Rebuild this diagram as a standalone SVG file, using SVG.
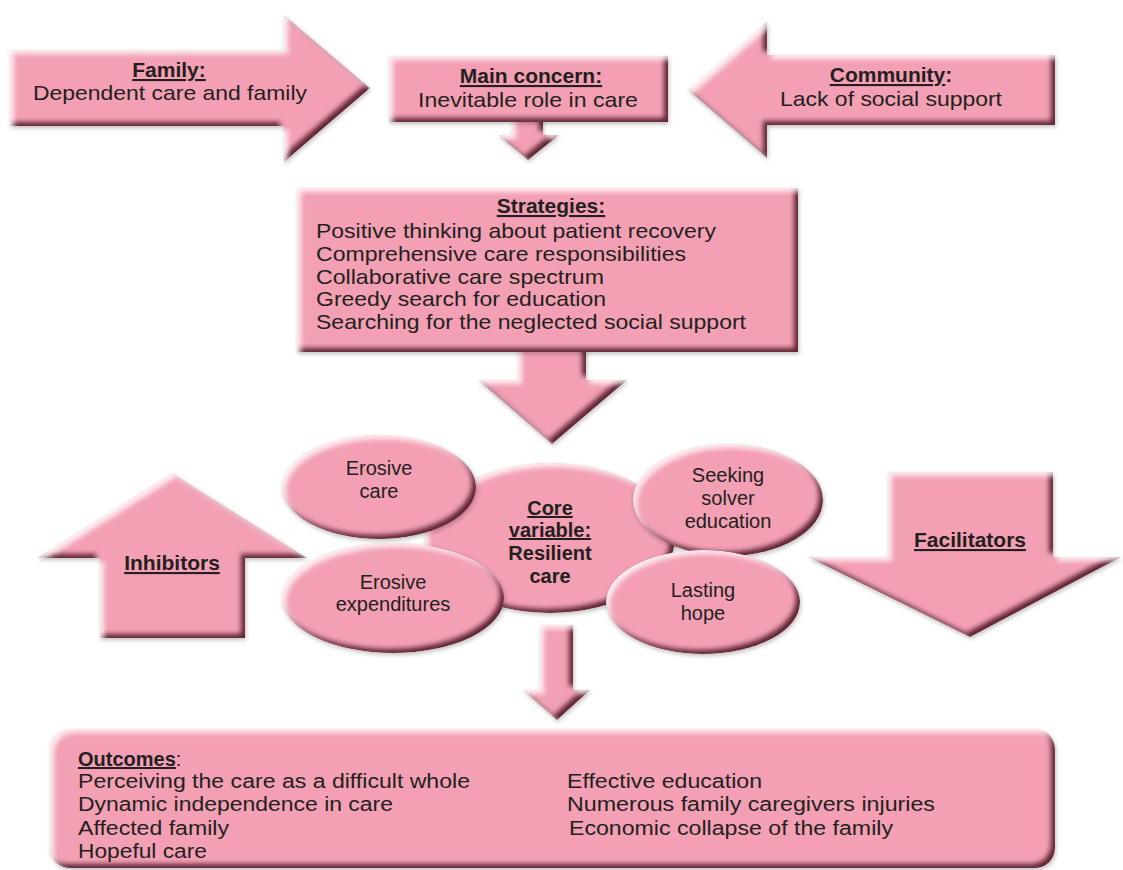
<svg xmlns="http://www.w3.org/2000/svg" width="1123" height="870" viewBox="0 0 1123 870">
<defs>
<filter id="bevel" x="-10%" y="-10%" width="120%" height="120%" color-interpolation-filters="sRGB">
  <feGaussianBlur in="SourceAlpha" stdDeviation="2.5" result="b"/>
  <feOffset in="b" dx="-4" dy="-4" result="bUL"/>
  <feOffset in="b" dx="4" dy="4" result="bDR"/>
  <feComposite in="SourceAlpha" in2="bUL" operator="arithmetic" k2="1" k3="-1" result="edgeDR"/>
  <feComposite in="SourceAlpha" in2="bDR" operator="arithmetic" k2="1" k3="-1" result="edgeUL"/>
  <feFlood flood-color="#5e2332" result="dk"/>
  <feComposite in="dk" in2="edgeDR" operator="in" result="dark"/>
  <feFlood flood-color="#ffffff" flood-opacity="0.8" result="lt"/>
  <feComposite in="lt" in2="edgeUL" operator="in" result="light"/>
  <feMerge result="m"><feMergeNode in="SourceGraphic"/><feMergeNode in="dark"/><feMergeNode in="light"/></feMerge>
  <feComposite in="m" in2="SourceAlpha" operator="in" result="clipped"/>
  <feGaussianBlur in="SourceAlpha" stdDeviation="2" result="sh"/>
  <feOffset in="sh" dx="1" dy="2" result="sh2"/>
  <feFlood flood-color="#000000" flood-opacity="0.25"/>
  <feComposite in2="sh2" operator="in" result="shadow"/>
  <feMerge><feMergeNode in="shadow"/><feMergeNode in="clipped"/></feMerge>
</filter>
</defs>
<style>
  .shape { fill: #F3A0B4; filter: url(#bevel); }
  text { font-family: "Liberation Sans", Arial, sans-serif; fill: #231F20; }
  .t { font-size: 21px; }
  .e { font-size: 20px; text-anchor: middle; }
  .h { font-size: 21px; font-weight: bold; text-decoration: underline; }
  .c { text-anchor: middle; }
  .o { font-size: 20px; }
  .k { font-size: 20px; font-weight: bold; text-anchor: middle; }
</style>
<rect width="1123" height="870" fill="#ffffff"/>

<g id="connectors">
  <polygon class="shape" points="512,110 543,110 543,135 559,135 528,160 498,135 512,135"/>
  <polygon class="shape" points="518,345 586,345 586,380 627,380 552,444 478,380 518,380"/>
  <polygon class="shape" points="540,625 573,625 573,690 590,690 557,720 523,690 540,690"/>
</g>

<g id="family">
  <polygon class="shape" points="10,50 284,50 284,15 370,88 284,162 284,126 10,126"/>
  <text class="h c" x="169" y="77">Family:</text>
  <text class="t c" x="170" y="100" textLength="274" lengthAdjust="spacingAndGlyphs">Dependent care and family</text>
</g>

<g id="main-concern">
  <rect class="shape" x="389" y="56" width="279" height="66"/>
  <text class="h c" x="531" y="83">Main concern:</text>
  <text class="t c" x="528" y="107" textLength="220" lengthAdjust="spacingAndGlyphs">Inevitable role in care</text>
</g>

<g id="community">
  <polygon class="shape" points="688,90 767,22 767,55 1055,55 1055,125 767,125 767,158"/>
  <text class="c" x="891" y="82" style="font-size:21px;font-weight:bold"><tspan style="text-decoration:underline">Community</tspan>:</text>
  <text class="t c" x="891" y="106" textLength="222" lengthAdjust="spacingAndGlyphs">Lack of social support</text>
</g>

<g id="strategies">
  <rect class="shape" x="297" y="188" width="501" height="164"/>
  <text class="h c" x="551" y="213">Strategies:</text>
  <text class="t" x="316" y="238" textLength="400" lengthAdjust="spacingAndGlyphs">Positive thinking about patient recovery</text>
  <text class="t" x="316" y="261" textLength="370" lengthAdjust="spacingAndGlyphs">Comprehensive care responsibilities</text>
  <text class="t" x="316" y="284" textLength="288" lengthAdjust="spacingAndGlyphs">Collaborative care spectrum</text>
  <text class="t" x="316" y="306" textLength="290" lengthAdjust="spacingAndGlyphs">Greedy search for education</text>
  <text class="t" x="316" y="329" textLength="430" lengthAdjust="spacingAndGlyphs">Searching for the neglected social support</text>
</g>

<g id="core-variable">
  <ellipse class="shape" cx="550" cy="538" rx="125" ry="75"/>
  <text class="k" x="550" y="515" style="text-decoration:underline">Core</text>
  <text class="k" x="550" y="537" style="text-decoration:underline">variable:</text>
  <text class="k" x="550" y="560">Resilient</text>
  <text class="k" x="550" y="583">care</text>
</g>

<g id="erosive-care">
  <ellipse class="shape" cx="379" cy="487" rx="97" ry="52"/>
  <text class="e" x="379" y="475">Erosive</text>
  <text class="e" x="379" y="498">care</text>
</g>

<g id="erosive-expenditures">
  <ellipse class="shape" cx="393" cy="598" rx="111" ry="55"/>
  <text class="e" x="393" y="589">Erosive</text>
  <text class="e" x="393" y="611">expenditures</text>
</g>

<g id="seeking-solver-education">
  <ellipse class="shape" cx="728" cy="500" rx="95" ry="56"/>
  <text class="e" x="728" y="482">Seeking</text>
  <text class="e" x="728" y="505">solver</text>
  <text class="e" x="728" y="528">education</text>
</g>

<g id="lasting-hope">
  <ellipse class="shape" cx="703" cy="602" rx="97" ry="52"/>
  <text class="e" x="703" y="597">Lasting</text>
  <text class="e" x="703" y="620">hope</text>
</g>

<g id="inhibitors">
  <polygon class="shape" points="172,473 307,558 245,558 245,638 100,638 100,558 37,558"/>
  <text class="h c" x="172" y="570">Inhibitors</text>
</g>

<g id="facilitators">
  <polygon class="shape" points="888,472 1053,472 1053,557 1121,557 970,637 808,557 888,557"/>
  <text class="h c" x="970" y="547">Facilitators</text>
</g>

<g id="outcomes">
  <rect class="shape" x="50" y="729" width="1005" height="139" rx="20" ry="20"/>
  <text x="78" y="766" style="font-size:20px"><tspan style="font-weight:bold;text-decoration:underline">Outcomes</tspan>:</text>
  <text class="o" x="78" y="788" textLength="392" lengthAdjust="spacingAndGlyphs">Perceiving the care as a difficult whole</text>
  <text class="o" x="78" y="811" textLength="315" lengthAdjust="spacingAndGlyphs">Dynamic independence in care</text>
  <text class="o" x="78" y="835" textLength="151" lengthAdjust="spacingAndGlyphs">Affected family</text>
  <text class="o" x="78" y="858" textLength="129" lengthAdjust="spacingAndGlyphs">Hopeful care</text>
  <text class="o" x="567" y="788" textLength="195" lengthAdjust="spacingAndGlyphs">Effective education</text>
  <text class="o" x="567" y="811" textLength="368" lengthAdjust="spacingAndGlyphs">Numerous family caregivers injuries</text>
  <text class="o" x="569" y="835" textLength="324" lengthAdjust="spacingAndGlyphs">Economic collapse of the family</text>
</g>
</svg>
